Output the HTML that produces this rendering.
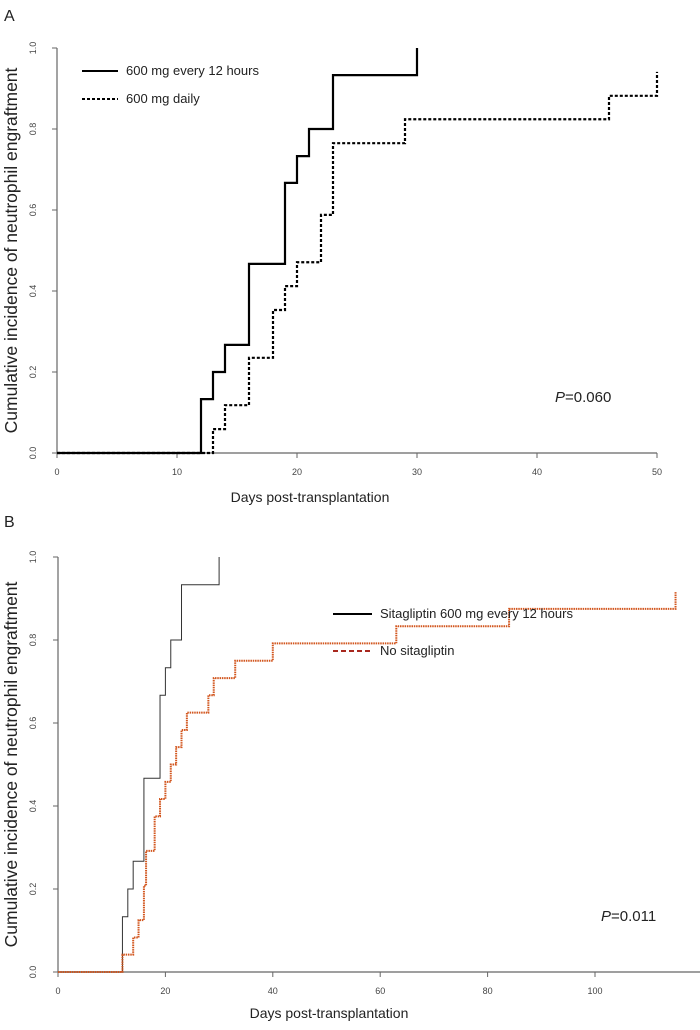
<!DOCTYPE html>
<html><head><meta charset="utf-8"><style>
body{margin:0;background:#fff;}
svg{display:block;font-family:"Liberation Sans",sans-serif;}
</style></head><body>
<svg id="c" width="700" height="1030"></svg>
<script>
// Panel A data
const aSolidDays=[0,12,13,14,16,19,20,21,23,30];
const aSolidVals=[0,0.133,0.2,0.267,0.467,0.667,0.733,0.8,0.933,1.0];
const aDashDays=[0,13,14,16,18,19,20,22,23,29,46,50];
const aDashVals=[0,0.059,0.118,0.235,0.353,0.412,0.471,0.588,0.765,0.824,0.882,0.941];
const aXTicks=[0,10,20,30,40,50];
const yTicks=["0.0","0.2","0.4","0.6","0.8","1.0"];
// Panel B data
const bBlackDays=[0,12,13,14,16,19,20,21,23,30];
const bBlackVals=[0,0.133,0.2,0.267,0.467,0.667,0.733,0.8,0.933,1.0];
const bOrangeDays=[0,12,14,15,16,16.4,18,19,20,21,22,23,24,28,29,33,40,63,84,115];
const bOrangeVals=[0,0.042,0.083,0.125,0.208,0.292,0.375,0.417,0.458,0.5,0.542,0.583,0.625,0.667,0.708,0.75,0.792,0.833,0.875,0.917];
const bXTicks=[0,20,40,60,80,100];

const NS="http://www.w3.org/2000/svg";
const svg=document.getElementById('c');
function el(t,a,p){const e=document.createElementNS(NS,t);for(const k in a)e.setAttribute(k,a[k]);(p||svg).appendChild(e);return e;}
function txt(x,y,s,size,extra){const e=el('text',Object.assign({x:x,y:y,'font-size':size,fill:'#222'},extra||{}));e.textContent=s;return e;}

function panel(o){
  const g=el('g',{});
  
  
  const X=d=>o.x0+(d-o.xmin)*(o.x1-o.x0)/(o.xmax-o.xmin);
  const Y=v=>o.y0-o.h*v;
  const ax=el('path',{d:`M${o.x0},${Y(0)}H${o.axEnd}M${o.x0},${Y(0)}V${Y(1)}`,stroke:'#666','stroke-width':1.2,fill:'none'},g);
  
  
  o.xt.forEach(t=>{el('line',{x1:X(t),x2:X(t),y1:Y(0),y2:Y(0)+5,stroke:'#666'},g);
    const l=txt(X(t),Y(0)+22,String(t),9,{'text-anchor':'middle',fill:'#444'});
    
    });
  yTicks.forEach((t,i)=>{const v=i*0.2;el('line',{x1:o.x0-5,x2:o.x0,y1:Y(v),y2:Y(v),stroke:'#666'},g);
    const l=txt(36,Y(v),t,9,{'text-anchor':'middle',fill:'#444',transform:`rotate(-90 36 ${Y(v)})`});
    
    });
  o.series.forEach(s=>{
    let d=`M${X(s.days[0])},${Y(s.vals[0])}`;
    for(let i=1;i<s.days.length;i++){d+=`H${X(s.days[i])}V${Y(s.vals[i])}`;}
    const p=el('path',{d:d,fill:'none',stroke:s.color,'stroke-width':s.w,'stroke-dasharray':s.dash||'none'},g);
    
    
  });
  const xl=txt(o.xlX,o.xlY,'Days post-transplantation',14,{'text-anchor':'middle'});
  
  
  const cy=(Y(0)+Y(1))/2;
  const yl=txt(17,cy,'Cumulative incidence of neutrophil engraftment',17.5,{'text-anchor':'middle',transform:`rotate(-90 17 ${cy})`});
  
  
}

panel({name:'panel-a',x0:57,x1:657,xmin:0,xmax:50,y0:453,h:405,axEnd:657,xt:aXTicks,xlX:310,xlY:502,
  series:[{name:'line-every-12-hours',days:aSolidDays,vals:aSolidVals,color:'#000',w:2.2},
          {name:'line-daily',days:aDashDays,vals:aDashVals,color:'#000',w:2.2,dash:'3,2'}]});
panel({name:'panel-b',x0:58,x1:595,xmin:0,xmax:100,y0:972,h:415,axEnd:700,xt:bXTicks,xlX:329,xlY:1018,
  series:[{name:'line-sitagliptin',days:bBlackDays,vals:bBlackVals,color:'#333',w:1},
          {name:'line-no-sitagliptin',days:bOrangeDays,vals:bOrangeVals,color:'#d2561e',w:2,dash:'1.5,0.8'}]});

let t;
t=txt(4,21,'A',16);
t=txt(4,527,'B',16);
el('line',{x1:82,x2:118,y1:71,y2:71,stroke:'#000','stroke-width':2});
t=txt(126,75,'600 mg every 12 hours',13);
el('line',{x1:82,x2:118,y1:99,y2:99,stroke:'#000','stroke-width':2,'stroke-dasharray':'3,2'});
t=txt(126,103,'600 mg daily',13);
t=txt(555,402,'',15);t.innerHTML='<tspan font-style="italic">P</tspan>=0.060';
el('line',{x1:333,x2:372,y1:614,y2:614,stroke:'#000','stroke-width':2});
t=txt(380,618,'Sitagliptin 600 mg every 12 hours',13);
el('line',{x1:333,x2:372,y1:651,y2:651,stroke:'#a8281e','stroke-width':2,'stroke-dasharray':'5,3'});
t=txt(380,655,'No sitagliptin',13);
t=txt(601,921,'',15);t.innerHTML='<tspan font-style="italic">P</tspan>=0.011';
</script>
</body></html>
